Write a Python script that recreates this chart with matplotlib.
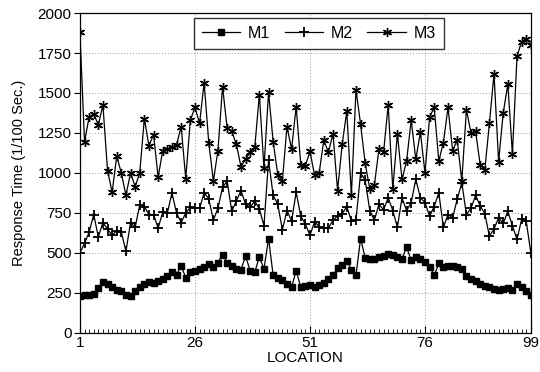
import numpy as np
import matplotlib
matplotlib.use("Agg")
import matplotlib.pyplot as plt
from matplotlib.ticker import MultipleLocator

plt.rcParams['font.family'] = ['Liberation Sans', 'DejaVu Sans']

# locations 1..99
locations = np.arange(1, 100)

# M1 - filled squares
m1 = [230, 235, 240, 245, 280, 320, 305, 290, 270, 265,
      240, 230, 260, 285, 305, 320, 315, 325, 335, 355,
      380, 365, 420, 345, 380, 390, 400, 415, 430, 410,
      440, 490, 440, 420, 400, 395, 480, 390, 380, 475,
      400, 590, 360, 345, 330, 305, 285, 390, 285, 295,
      300, 290, 300, 310, 340, 360, 405, 425, 450, 395,
      360, 590, 470, 460, 465, 475, 480, 495, 485, 475,
      465, 535, 455, 475, 465, 445, 415, 360, 435, 415,
      420, 420, 410, 400, 355, 335, 325, 305, 295, 285,
      275, 270, 275, 280, 270, 305, 285, 265, 235]

# M2 - plus signs
m2 = [500, 560, 630, 740, 600, 690, 650, 610, 640, 630,
      510, 690, 660, 800, 790, 740, 740, 655, 755, 750,
      875, 750, 690, 750, 785, 780, 780, 875, 840, 705,
      780, 910, 950, 760, 825, 890, 805, 785, 825, 775,
      670, 1080, 860, 805, 645, 765, 700, 880, 730, 680,
      610, 695, 665, 655, 655, 705, 730, 745, 790, 700,
      705, 1000, 955, 765, 705, 805, 770, 845, 765, 660,
      845, 765, 815, 960, 845, 815, 730, 790, 875, 660,
      740, 720, 835, 940, 740, 780, 860, 795, 745, 605,
      650, 720, 685, 760, 670, 585, 710, 700, 500]

# M3 - stars
m3 = [1880, 1195, 1350, 1370, 1300, 1425, 1015, 880, 1105, 1000,
      860, 1000, 915, 1000, 1340, 1170, 1240, 975, 1140, 1150,
      1165, 1175, 1290, 965, 1330, 1410, 1310, 1565, 1190, 950,
      1140, 1540, 1280, 1260, 1180, 1040, 1085, 1130, 1160, 1490,
      1030, 1505, 1195, 990, 950, 1290, 1150, 1415, 1050, 1045,
      1135, 985, 1000, 1205, 1130, 1245, 890, 1180, 1385, 860,
      1520, 1305, 1060, 900, 925, 1150, 1130, 1425, 900, 1245,
      960, 1075, 1330, 1085, 1255, 1000, 1350, 1410, 1075, 1190,
      1410, 1140, 1205, 950, 1395, 1250, 1260, 1050, 1020, 1310,
      1620, 1070, 1375, 1555, 1120, 1730, 1820, 1840, 1800]

x_ticks = [1, 26, 51, 76, 99]
y_ticks = np.arange(0, 2001, 250)

fig = plt.figure(figsize=(5.4, 3.72), dpi=100)
ax = fig.add_axes([0.148, 0.105, 0.835, 0.86])

ax.plot(locations, m1, color='black', lw=0.9, marker='s', ms=5,
        mfc='black', mec='black', label='M1')
ax.plot(locations, m2, color='black', lw=0.9, marker='+', ms=7.5,
        mew=1.3, label='M2')
ax.plot(locations, m3, color='black', lw=0.9, marker=(6, 2, 0), ms=6.5,
        mew=1.0, label='M3')

ax.set_xlim(1, 99)
ax.set_ylim(0, 2000)
ax.set_xticks(x_ticks)
ax.xaxis.set_minor_locator(MultipleLocator(1))
ax.set_yticks(y_ticks)

ax.tick_params(axis='x', which='major', direction='in', length=5, width=0.8,
               labelsize=11, pad=2)
ax.tick_params(axis='x', which='minor', direction='in', length=3, width=0.6)
ax.tick_params(axis='y', which='major', direction='out', length=4, width=0.8,
               labelsize=11, pad=2)

for v in y_ticks[1:-1]:
    ax.axhline(v, color='#777777', lw=0.6, ls=(0, (1, 2.5)), zorder=0)
for v in x_ticks[1:-1]:
    ax.axvline(v, color='#777777', lw=0.6, ls=(0, (1, 2.5)), zorder=0)

for s in ax.spines.values():
    s.set_linewidth(0.9)

ax.set_xlabel('LOCATION', fontsize=11, labelpad=1)
ax.set_ylabel('Response Time (1/100 Sec.)', fontsize=10.5, labelpad=8)

leg = ax.legend(loc='upper center', bbox_to_anchor=(0.53, 0.985), ncol=3,
                frameon=True, fancybox=False, edgecolor='black',
                handlelength=2.4, columnspacing=0.9, handletextpad=0.5,
                fontsize=11.5, borderpad=0.5, borderaxespad=0)
leg.get_frame().set_linewidth(1.0)

fig.savefig('out.png', dpi=100)
